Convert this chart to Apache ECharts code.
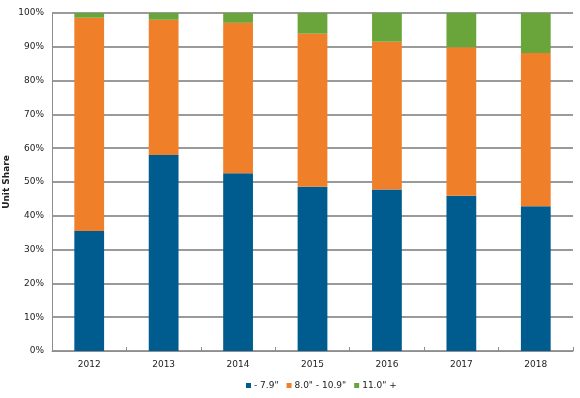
<!DOCTYPE html>
<html>
<head>
<meta charset="utf-8">
<script src="https://cdn.jsdelivr.net/npm/echarts@6/dist/echarts.min.js"></script>
<style>
  html, body { margin: 0; padding: 0; background: #fff; }
  #main { width: 580px; height: 398px; }
</style>
</head>
<body>
<div id="main"></div>
<script>
// categories and series values (unit share, %)
var years = ['2012', '2013', '2014', '2015', '2016', '2017', '2018'];
var small = [35.5, 58.0, 52.6, 48.6, 47.8, 45.9, 42.8];   // - 7.9"
var medium = [63.1, 40.0, 44.5, 45.3, 43.7, 44.0, 45.4];  // 8.0" - 10.9"
var large = [1.4, 2.0, 2.9, 6.1, 8.5, 10.1, 11.8];        // 11.0" +
var seriesNames = ['- 7.9"', '8.0" - 10.9"', '11.0" +'];
var colors = ['#005b8f', '#f07f29', '#6aa53c'];

var font = 'DejaVu Sans';

var chart = echarts.init(document.getElementById('main'));

function makeSeries(name, data, color) {
    return {
        name: name,
        type: 'bar',
        stack: 'share',
        barCategoryGap: '60%',
        data: data,
        itemStyle: { color: color }
    };
}

var option = {
    animation: false,
    textStyle: { fontFamily: font },
    grid: { left: 52, right: 7, top: 13, bottom: 47, outerBoundsMode: 'none', containLabel: false },
    legend: {
        bottom: 3,
        left: 241,
        itemWidth: 5,
        itemHeight: 5,
        itemGap: 8,
        icon: 'rect',
        textStyle: { fontFamily: font, fontSize: 9, color: '#222', padding: [0, 0, 0, -2] },
        data: seriesNames
    },
    xAxis: {
        type: 'category',
        data: years,
        axisLine: { lineStyle: { color: '#8e8e8e', width: 1 } },
        axisTick: { show: true, inside: true, length: 4, lineStyle: { color: '#8e8e8e' } },
        axisLabel: { fontFamily: font, fontSize: 9, color: '#222', margin: 9 }
    },
    yAxis: {
        type: 'value',
        min: 0,
        max: 100,
        interval: 10,
        name: 'Unit Share',
        nameLocation: 'middle',
        nameGap: 41,
        nameMoveOverlap: false,
        nameTextStyle: { fontFamily: font, fontSize: 9, fontWeight: 'bold', color: '#222' },
        axisLine: { show: true, lineStyle: { color: '#8e8e8e', width: 1 } },
        axisTick: { show: false },
        axisLabel: { fontFamily: font, fontSize: 9, color: '#222', formatter: '{value}%', margin: 8 },
        splitLine: { lineStyle: { color: '#9a9a9a', width: 2 } }
    },
    series: [
        makeSeries(seriesNames[0], small, colors[0]),
        makeSeries(seriesNames[1], medium, colors[1]),
        makeSeries(seriesNames[2], large, colors[2])
    ]
};

chart.setOption(option);
</script>
</body>
</html>
